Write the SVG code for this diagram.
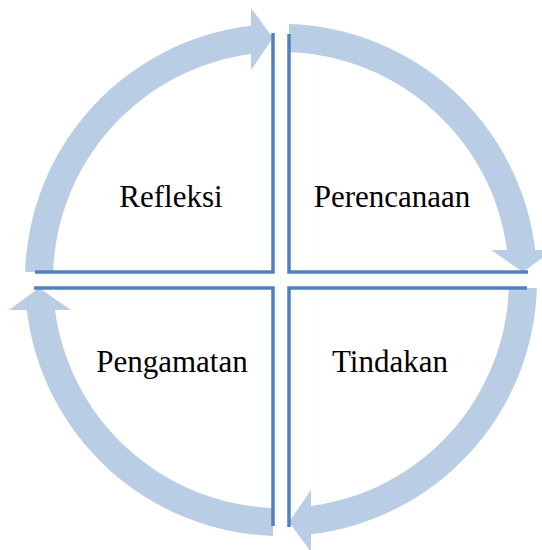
<svg xmlns="http://www.w3.org/2000/svg" xmlns:xlink="http://www.w3.org/1999/xlink" width="542" height="550" viewBox="0 0 542 550">
  <style>
    .frame { fill: none; stroke: #4F81BD; stroke-width: 3.5; stroke-linejoin: miter; }
    .arrow { fill: #B9CDE5; stroke: none; }
    .label { font-family: "Liberation Serif", "Times New Roman", serif; font-size: 31px; fill: #000; text-anchor: middle; }
  </style>
  <defs>
    <path id="arc" class="arrow" d="M 53.1,272 L 25.1,272 A 256 256 0 0 1 251,25.8 L 251,8 L 273,38 L 251,70 L 251,54 A 228 228 0 0 0 53.1,272 Z"/>
    <path id="ell" class="frame" d="M 273,33 V 272 H 35"/>
  </defs>
  <rect width="542" height="550" fill="#fff"/>
  <g id="connectors">
    <use xlink:href="#arc"/>
    <use xlink:href="#arc" transform="rotate(90 281 280)"/>
    <use xlink:href="#arc" transform="rotate(180 281 280)"/>
    <use xlink:href="#arc" transform="rotate(270 281 280)"/>
  </g>
  <g id="refleksi">
    <use xlink:href="#ell"/>
    <text class="label" x="171" y="207">Refleksi</text>
  </g>
  <g id="perencanaan">
    <use xlink:href="#ell" transform="rotate(90 281 280)"/>
    <text class="label" x="392" y="207">Perencanaan</text>
  </g>
  <g id="tindakan">
    <use xlink:href="#ell" transform="rotate(180 281 280)"/>
    <text class="label" x="390" y="372">Tindakan</text>
  </g>
  <g id="pengamatan">
    <use xlink:href="#ell" transform="rotate(270 281 280)"/>
    <text class="label" x="172" y="372">Pengamatan</text>
  </g>
</svg>
